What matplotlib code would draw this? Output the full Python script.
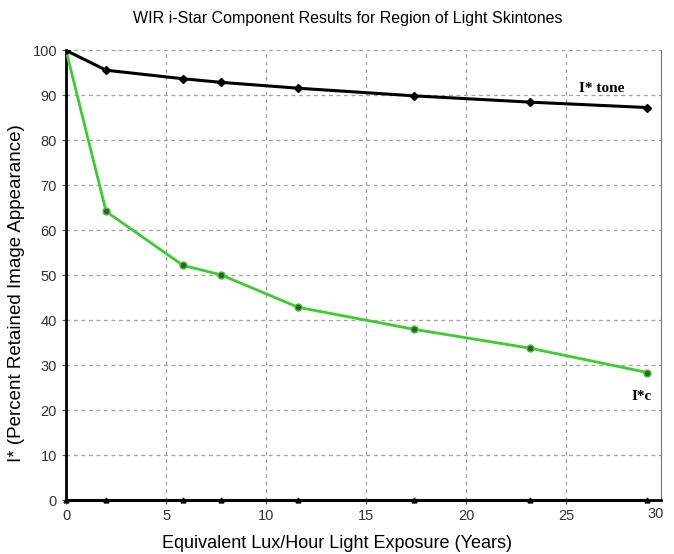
import numpy as np
import matplotlib
matplotlib.use("Agg")
import matplotlib.pyplot as plt

plt.rcParams['font.family'] = ['Liberation Sans', 'DejaVu Sans']

years = [0, 2.0, 5.85, 7.75, 11.6, 17.4, 23.2, 29.05]
tone = [100, 95.6, 93.7, 92.9, 91.6, 89.9, 88.5, 87.3]
chroma = [100, 64.2, 52.2, 50.1, 42.9, 38.0, 33.8, 28.4]
baseline = [0, 0, 0, 0, 0, 0, 0, 0]

fig = plt.figure(figsize=(6.74, 5.54), dpi=100)
ax = fig.add_axes([0.098, 0.097, 0.883, 0.812])

ax.plot(years, baseline, color='black', lw=2.2, marker='^', ms=3.5, zorder=4, clip_on=False)
ax.plot(years, chroma, color='#3ccc2e', lw=2, marker='o', ms=5,
        mfc='#3a5a30', mec='#3ccc2e', mew=1, zorder=3)
ax.plot(years, tone, color='black', lw=2.2, marker='D', ms=4, zorder=3)

ax.text(27.9, 90.0, "I* tone", family='Liberation Serif', fontweight='bold',
        fontsize=11, ha='right', va='bottom')
ax.text(29.3, 24.5, "I*c", family='Liberation Serif', fontweight='bold',
        fontsize=11, ha='right', va='top')

ax.set_xlim(0, 29.75)
ax.set_ylim(0, 100)
ax.set_xticks(np.arange(0, 30, 5))
ax.set_yticks(np.arange(0, 101, 10))
ax.text(29.45, -1.5, "30", ha='center', va='top', fontsize=10.5, color='#333333')

ax.grid(True, color='#a0a0a0', ls=(0, (3, 3)), lw=0.9)
ax.tick_params(length=3, labelsize=10.5, labelcolor='#333333', color='#555555')

ax.spines['top'].set_visible(False)
ax.spines['right'].set_color('#777777')
ax.spines['left'].set_linewidth(2)
ax.spines['bottom'].set_linewidth(2)

ax.set_title("WIR i-Star Component Results for Region of Light Skintones",
             fontsize=11.5, x=0.474, pad=20)
ax.set_xlabel("Equivalent Lux/Hour Light Exposure (Years)", fontsize=13)
ax.set_ylabel("I* (Percent Retained Image Appearance)", fontsize=13.5)
ax.xaxis.set_label_coords(0.455, -0.078)
ax.yaxis.set_label_coords(-0.069, 0.46)

fig.savefig("out.png", dpi=100)
